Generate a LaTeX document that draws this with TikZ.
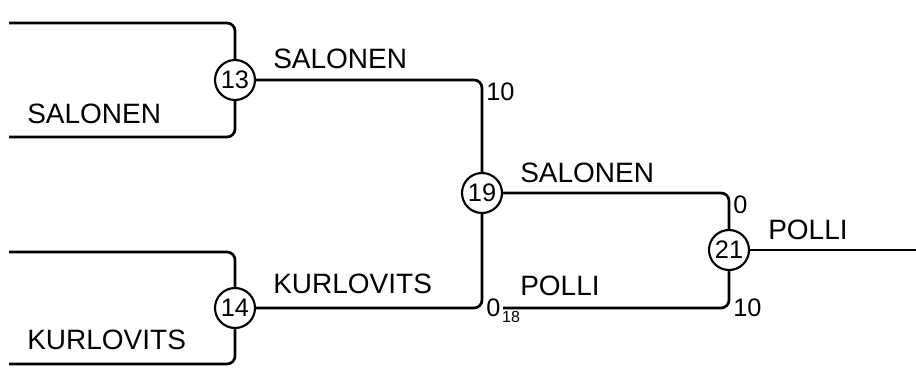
\documentclass[tikz,border=0pt]{standalone}
\usepackage{fontspec}
\setmainfont{Liberation Sans}
\usetikzlibrary{positioning}

\begin{document}
\begin{tikzpicture}[x=0.75pt, y=-0.75pt,
    match/.style={circle, draw, line width=1.6pt, minimum size=30pt, inner sep=0pt, font=\fontsize{19}{19}\selectfont},
    wire/.style={line width=2pt, rounded corners=6pt},
    player/.style={anchor=base west, inner sep=0pt, font=\fontsize{21}{21}\selectfont},
    score/.style={anchor=base west, inner sep=0pt, font=\fontsize{19}{19}\selectfont},
    seed/.style={anchor=base west, inner sep=0pt, font=\fontsize{12}{12}\selectfont}]

    \useasboundingbox (0,0) rectangle (916,368);

    % Matches
    \node[match] (m13) at (235,80) {13};
    \node[match] (m14) at (235,308) {14};
    \node[match] (m19) at (482,193) {19};
    \node[match] (m21) at (729,250) {21};

    % Free ends
    \coordinate (in13a) at (9,23);
    \coordinate (in13b) at (9,137);
    \coordinate (in14a) at (9,252);
    \coordinate (in14b) at (9,364);
    \coordinate (bye18) at (503,308);
    \coordinate (final) at (916,250);

    % First round
    \draw[wire] (in13a) -| (m13.north);
    \draw[wire] (in13b) -| (m13.south);
    \draw[wire] (in14a) -| (m14.north);
    \draw[wire] (in14b) -| (m14.south);
    \node[player] (p13) at (27,123) {SALONEN};
    \node[player] (p14) at (27,349) {KURLOVITS};

    % Second round
    \draw[wire] (m13.east) -| (m19.north);
    \draw[wire] (m14.east) -| (m19.south);
    \node[player] (w13) at (273,68) {SALONEN};
    \node[player] (w14) at (273,293) {KURLOVITS};
    \node[score] (s13) at (486,100) {10};
    \node[score] (s14) at (486,316) {0};
    \node[seed, right=1pt of s14.base east, anchor=base west, yshift=-5pt] (n18) {18};

    % Final
    \draw[wire] (m19.east) -| (m21.north);
    \draw[wire] (bye18) -| (m21.south);
    \draw[wire] (m21.east) -- (final);
    \node[player] (w19) at (520,182) {SALONEN};
    \node[player] (w18) at (520,295) {POLLI};
    \node[score] (s19) at (733,213) {0};
    \node[score] (s18) at (733,316) {10};
    \node[player] (w21) at (768,239) {POLLI};
\end{tikzpicture}
\end{document}
